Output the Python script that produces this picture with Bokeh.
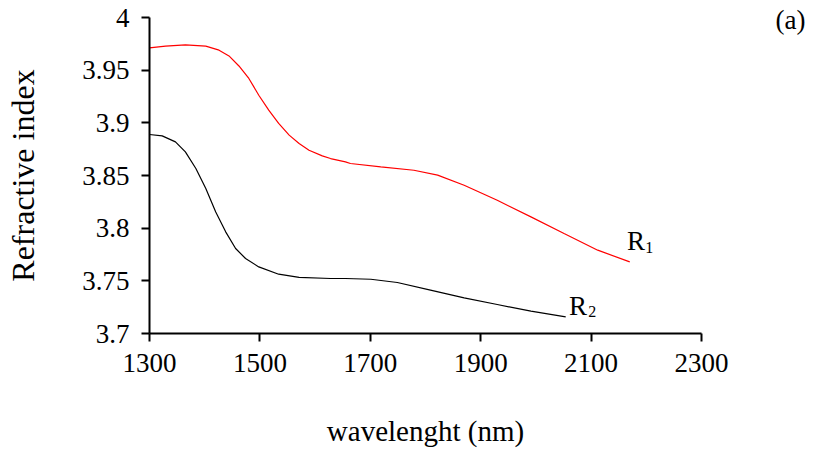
from bokeh.plotting import figure
from bokeh.models import Range1d, FixedTicker, Label, LinearAxis
from bokeh.embed import file_html
from bokeh.resources import INLINE

# Data
r1_wavelength = [1300, 1329, 1365, 1402, 1426, 1444, 1462, 1480, 1498, 1516, 1534,
                 1553, 1571, 1589, 1613, 1628, 1655, 1664, 1719, 1779, 1822, 1870,
                 1930, 1991, 2051, 2112, 2170]
r1_index = [3.9711, 3.9728, 3.9740, 3.9728, 3.9690, 3.9635, 3.9540, 3.9421, 3.9262,
            3.9120, 3.8994, 3.8883, 3.8804, 3.8740, 3.8686, 3.8661, 3.8629, 3.8614,
            3.8582, 3.8550, 3.8503, 3.8408, 3.8265, 3.8107, 3.7949, 3.7791, 3.7680]

r2_wavelength = [1300, 1323, 1347, 1365, 1384, 1402, 1420, 1438, 1456, 1474, 1498,
                 1534, 1571, 1628, 1655, 1701, 1749, 1809, 1870, 1930, 1991, 2054]
r2_index = [3.8889, 3.8876, 3.8819, 3.8724, 3.8566, 3.8377, 3.8154, 3.7965, 3.7807,
            3.7712, 3.7632, 3.7563, 3.7532, 3.7522, 3.7522, 3.7515, 3.7484, 3.7411,
            3.7338, 3.7275, 3.7212, 3.7157]

x_ticks = [1300, 1500, 1700, 1900, 2100, 2300]
y_ticks = [3.7, 3.75, 3.8, 3.85, 3.9, 3.95, 4.0]
y_tick_labels = ["3.7", "3.75", "3.8", "3.85", "3.9", "3.95", "4"]
panel_tag = "(a)"

FONT = "Liberation Serif"

p = figure(width=815, height=459, output_backend="svg", toolbar_location=None,
           x_range=Range1d(1300, 2300), y_range=Range1d(3.7, 4.0),
           min_border_left=149, min_border_right=114, min_border_top=17,
           min_border_bottom=126)
p.outline_line_color = None
p.xgrid.visible = False
p.ygrid.visible = False

p.line(r1_wavelength, r1_index, line_color="#ff0000", line_width=1.2)
p.line(r2_wavelength, r2_index, line_color="#000000", line_width=1.2)

for ax in (p.xaxis[0], p.yaxis[0]):
    ax.axis_line_color = "black"
    ax.axis_line_width = 2
    ax.major_tick_line_color = "black"
    ax.major_tick_line_width = 2
    ax.major_tick_out = 8
    ax.major_tick_in = 0
    ax.minor_tick_line_color = None
    ax.major_label_text_font = FONT
    ax.major_label_text_font_size = "27px"
    ax.major_label_text_color = "black"
    ax.axis_label_text_font = FONT
    ax.axis_label_text_font_style = "normal"
    ax.axis_label_text_color = "black"
    ax.major_label_standoff = 12

p.xaxis[0].ticker = FixedTicker(ticks=x_ticks)
p.yaxis[0].ticker = FixedTicker(ticks=y_ticks)
p.yaxis[0].major_label_overrides = {t: l for t, l in zip(y_ticks, y_tick_labels)}
p.xaxis[0].axis_label = "wavelenght (nm)"
p.yaxis[0].axis_label = "Refractive index"
p.xaxis[0].axis_label_text_font_size = "29px"
p.yaxis[0].axis_label_text_font_size = "32px"
p.xaxis[0].axis_label_standoff = 40
p.yaxis[0].axis_label_standoff = 38

# Series labels with subscripts
def add_label(x, y, text, size):
    p.add_layout(Label(x=x, y=y, text=text, text_font=FONT,
                       text_font_size=size, text_color="black",
                       text_baseline="top", text_align="left"))

add_label(2165, 3.8023, "R", "27px")
add_label(2198, 3.7871, "1", "16px")
add_label(2060, 3.7406, "R", "27px")
add_label(2095, 3.7260, "2", "16px")

# panel tag "(a)" in the top-right corner, drawn as a lone right-axis label
tag_axis = LinearAxis(ticker=FixedTicker(ticks=[3.998]),
                      major_label_overrides={3.998: panel_tag},
                      axis_line_color=None, major_tick_line_color=None,
                      minor_tick_line_color=None, major_tick_out=0,
                      major_tick_in=0, major_label_standoff=74,
                      major_label_text_font=FONT,
                      major_label_text_font_size="27px",
                      major_label_text_color="black")
p.add_layout(tag_axis, "right")

open("out.html", "w").write(file_html(p, INLINE))
